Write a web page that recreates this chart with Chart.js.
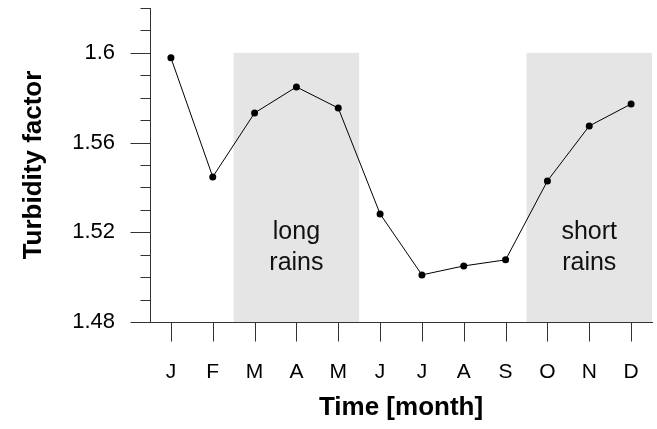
<!DOCTYPE html>
<html>
<head>
<meta charset="utf-8">
<script src="https://cdn.jsdelivr.net/npm/chart.js@4.4.1/dist/chart.umd.min.js"></script>
<style>
  html, body { margin: 0; padding: 0; background: #fff; }
  #wrap { width: 657px; height: 429px; }
</style>
</head>
<body>
<div id="wrap"><canvas id="turbChart" width="657" height="429"></canvas></div>
<script>
// data
const months = ['J', 'F', 'M', 'A', 'M', 'J', 'J', 'A', 'S', 'O', 'N', 'D'];
const turbidity = [1.5978, 1.5447, 1.5732, 1.5848, 1.5754, 1.5282, 1.5010, 1.5050, 1.5077, 1.5429, 1.5674, 1.5772];
const yMajorTicks = [1.48, 1.52, 1.56, 1.60];
const yMinorTicks = [1.49, 1.50, 1.51, 1.53, 1.54, 1.55, 1.57, 1.58, 1.59, 1.61, 1.62];
const seasonNames = [['long', 'rains'], ['short', 'rains']];
const seasonFrom = [1.5, 8.5];
const seasonTo = [4.5, 11.5];
const seasonTop = 1.60;

const FONT = "'Liberation Sans', Arial, Helvetica, sans-serif";
const AXIS_COLOR = '#333333';

// shaded seasons, tick marks and season labels
const extras = {
  id: 'extras',
  beforeDatasetsDraw(chart) {
    const { ctx, scales: { x, y } } = chart;
    ctx.save();
    ctx.fillStyle = '#e5e5e5';
    for (let i = 0; i < seasonNames.length; i++) {
      const x0 = x.getPixelForValue(seasonFrom[i]);
      const x1 = x.getPixelForValue(seasonTo[i]);
      const y0 = y.getPixelForValue(seasonTop);
      const y1 = y.getPixelForValue(y.min);
      ctx.fillRect(x0, y0, x1 - x0, y1 - y0);
    }
    ctx.fillStyle = '#111';
    ctx.font = '25px ' + FONT;
    ctx.textAlign = 'center';
    ctx.textBaseline = 'alphabetic';
    for (let i = 0; i < seasonNames.length; i++) {
      const cx = x.getPixelForValue((seasonFrom[i] + seasonTo[i]) / 2);
      const by = y.getPixelForValue(1.5172);
      seasonNames[i].forEach((t, k) => ctx.fillText(t, cx, by + k * 31));
    }
    ctx.restore();
  },
  afterDraw(chart) {
    const { ctx, scales: { x, y } } = chart;
    ctx.save();
    ctx.strokeStyle = AXIS_COLOR;
    ctx.lineWidth = 1;
    ctx.beginPath();
    const left = Math.round(x.left) + 0.5;
    yMajorTicks.forEach(v => {
      const p = Math.round(y.getPixelForValue(v)) + 0.5;
      ctx.moveTo(left - 20, p); ctx.lineTo(left, p);
    });
    yMinorTicks.forEach(v => {
      const p = Math.round(y.getPixelForValue(v)) + 0.5;
      ctx.moveTo(left - 10, p); ctx.lineTo(left, p);
    });
    const bottom = Math.round(y.bottom) + 0.5;
    months.forEach((m, i) => {
      const p = Math.round(x.getPixelForValue(i)) + 0.5;
      ctx.moveTo(p, bottom); ctx.lineTo(p, bottom + 19);
    });
    ctx.stroke();
    ctx.restore();
  }
};

function noPad(s) {
  s.paddingTop = 0; s.paddingBottom = 0; s.paddingLeft = 0; s.paddingRight = 0;
}

const ctx = document.getElementById('turbChart').getContext('2d');
const turbChart = new Chart(ctx, {
  type: 'line',
  data: {
    datasets: [{
      data: turbidity.map((v, i) => ({ x: i, y: v })),
      borderColor: '#000',
      borderWidth: 1,
      pointRadius: 3.5,
      pointBackgroundColor: '#000',
      pointBorderWidth: 0,
      tension: 0
    }]
  },
  options: {
    responsive: false,
    animation: false,
    layout: { padding: { top: 8, right: 5, left: 0, bottom: 0 } },
    plugins: { legend: { display: false }, tooltip: { enabled: false } },
    scales: {
      x: {
        type: 'linear',
        min: -0.5,
        max: 11.5,
        afterFit: s => { s.height = 107; noPad(s); },
        afterBuildTicks: s => { s.ticks = months.map((m, i) => ({ value: i })); },
        grid: { display: false, drawTicks: false },
        border: { display: true, color: AXIS_COLOR, width: 1 },
        ticks: {
          autoSkip: false,
          maxRotation: 0,
          padding: 38,
          color: '#000',
          font: { family: FONT, size: 21 },
          callback: v => months[v]
        },
        title: {
          display: true,
          text: 'Time [month]',
          color: '#000',
          font: { family: FONT, size: 26, weight: 'bold' },
          padding: { top: 0, bottom: 6 }
        }
      },
      y: {
        min: 1.48,
        max: 1.62,
        afterFit: s => { s.width = 150; noPad(s); },
        afterBuildTicks: s => { s.ticks = yMajorTicks.map(v => ({ value: v })); },
        grid: { display: false, drawTicks: false },
        border: { display: true, color: AXIS_COLOR, width: 1 },
        ticks: {
          padding: 35,
          color: '#000',
          font: { family: FONT, size: 22 },
          callback: v => String(+v.toFixed(2))
        },
        title: {
          display: true,
          text: 'Turbidity factor',
          color: '#000',
          font: { family: FONT, size: 26, weight: 'bold' },
          padding: { top: 18, bottom: 0 }
        }
      }
    }
  },
  plugins: [extras]
});
</script>
</body>
</html>
